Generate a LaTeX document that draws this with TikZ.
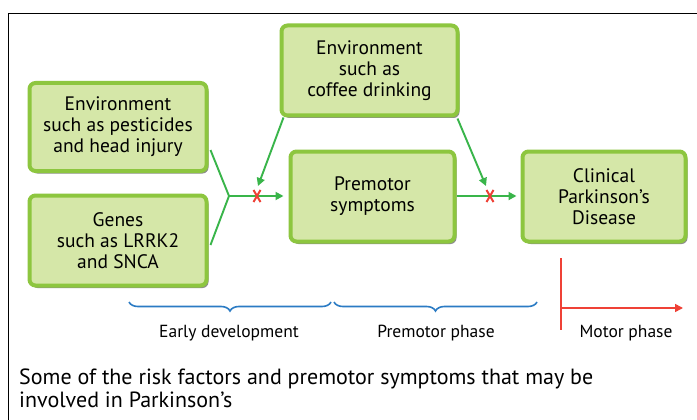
\documentclass[tikz,border=0pt]{standalone}
\usepackage{fontspec}
\setmainfont{PT Sans}
\usetikzlibrary{shadows,calc,decorations.pathreplacing,arrows.meta}
\definecolor{boxfill}{HTML}{D5E7A8}
\definecolor{boxline}{HTML}{8DC63F}
\definecolor{arrgreen}{HTML}{39B54A}
\definecolor{xred}{HTML}{EF4136}
\definecolor{braceblue}{HTML}{2B7BC4}
\tikzset{
  gbox/.style={draw=boxline, line width=4pt, fill=boxfill, rounded corners=6pt,
    align=center, font=\fontsize{19.5}{21}\selectfont, inner sep=2pt,
    drop shadow={shadow xshift=2pt, shadow yshift=-2.5pt, fill=black!45, opacity=1}},
  garr/.style={draw=arrgreen, line width=1.9pt, -{Triangle[length=8pt,width=8pt]}},
  gline/.style={draw=arrgreen, line width=1.9pt},
  redx/.style={draw=xred, line width=2pt},
  bbrace/.style={draw=braceblue, line width=1.6pt, decorate,
    decoration={brace, mirror, amplitude=9pt}},
  lbl/.style={font=\fontsize{17.5}{20}\selectfont, anchor=center},
}
\begin{document}
\begin{tikzpicture}[x=1pt,y=-1pt]
\useasboundingbox (0,0) rectangle (697,420);
\fill[white] (0,0) rectangle (697,420);
% frame
\draw[line width=1pt] (697,14) -- (8,14) -- (8,420);
% boxes
\node[gbox, minimum width=177pt, minimum height=88pt] (envA) at (118,127) {Environment\\such as pesticides\\and head injury};
\node[gbox, minimum width=177pt, minimum height=90pt] (genes) at (118,240.5) {Genes\\such as LRRK2\\and SNCA};
\node[gbox, minimum width=176pt, minimum height=90pt] (coffee) at (369.5,70.5) {Environment\\such as\\coffee drinking};
\node[gbox, minimum width=164pt, minimum height=90pt] (premotor) at (372.5,196.5) {Premotor\\symptoms};
\node[gbox, minimum width=163pt, minimum height=90pt] (clinical) at (604,196.5) {Clinical\\Parkinson’s\\Disease};
% connectors
\coordinate (j) at (229,196);
\draw[gline] ($(envA.east)+(2,23)$) -- (j) -- ($(genes.east)+(2,4.5)$);
\draw[garr] (j) -- ($(premotor.west)+(-5,-0.5)$);
\draw[garr] ($(coffee.south west)+(4,0)$) -- (258,186);
\draw[garr] ($(premotor.east)+(0,-0.5)$) -- ($(clinical.west)+(-4,-0.5)$);
\draw[garr] ($(coffee.south east)+(-2,1)$) -- (486,186);
% red crosses
\coordinate (x1) at (257,196);
\coordinate (x2) at (490,196);
\foreach \c in {x1,x2}{
  \draw[redx] ($(\c)+(-3.5,-6)$) -- ($(\c)+(3.5,6)$);
  \draw[redx] ($(\c)+(3.5,-6)$) -- ($(\c)+(-3.5,6)$);
}
% braces
\draw[bbrace] (129,302) -- (331,302);
\draw[bbrace] (334,302) -- (537,302);
\node[lbl] (early) at (229,333) {Early development};
\node[lbl] (prem) at (436,333) {Premotor phase};
% motor phase
\coordinate (m0) at (561,258);
\coordinate (m1) at (561,330);
\coordinate (m2) at (561,308);
\coordinate (m3) at (683,308);
\draw[draw=xred, line width=1.6pt] (m0) -- (m1);
\draw[draw=xred, line width=1.6pt, -{Triangle[length=8pt,width=8pt]}] (m2) -- (m3);
\node[lbl] (motor) at (626,333) {Motor phase};
% caption
\node[anchor=north west, align=left, font=\fontsize{22}{23}\selectfont, inner sep=0pt] (cap) at (19,369)
  {Some of the risk factors and premotor symptoms that may be\\involved in Parkinson’s};
\end{tikzpicture}
\end{document}
